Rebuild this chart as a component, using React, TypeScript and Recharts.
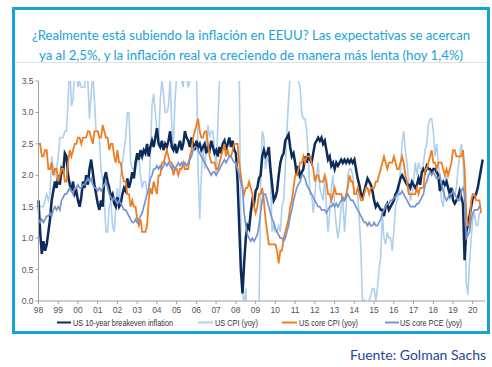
import { LineChart, Line, XAxis, YAxis } from 'recharts'

// Monthly series, first value = Aug 1998
const START = 1998 + 7 / 12

// US 10-year breakeven inflation (runs to Feb 2021)
const breakeven = [
  1.6, 1.1, 0.75, 0.95, 0.8,
  0.9, 1.1, 1.3, 1.6, 1.75, 1.9, 1.8, 2.0, 1.85, 2.1, 2.05, 2.35,
  2.3, 2.0, 1.85, 1.75, 1.9, 1.7, 1.75, 1.6, 1.5, 1.65, 1.9, 1.8,
  2.0, 1.85, 2.1, 2.25, 2.05, 1.85, 1.7, 1.55, 1.45, 1.6, 1.5, 1.95,
  2.05, 1.9, 1.8, 1.65, 1.7, 1.55, 1.5, 1.65, 1.5, 1.55, 1.7, 1.8,
  1.75, 1.95, 1.8, 1.9, 2.05, 1.95, 2.2, 2.35, 2.25, 2.4, 2.3, 2.4,
  2.35, 2.5, 2.3, 2.45, 2.55, 2.45, 2.6, 2.75, 2.5, 2.45, 2.55, 2.4,
  2.5, 2.45, 2.55, 2.7, 2.45, 2.4, 2.5, 2.35, 2.45, 2.55, 2.4, 2.5,
  2.7, 2.6, 2.55, 2.45, 2.6, 2.5, 2.4, 2.55, 2.45, 2.5, 2.4, 2.45,
  2.5, 2.35, 2.45, 2.4, 2.55, 2.45, 2.35, 2.4, 2.3, 2.45, 2.35, 2.5,
  2.55, 2.4, 2.5, 2.6, 2.45, 2.55, 2.4, 2.35, 1.9, 1.2, 0.5, 0.12,
  0.6, 1.0, 1.2, 1.15, 1.4, 1.6, 1.55, 1.75, 1.8, 1.95, 2.0, 2.3,
  2.4, 2.3, 2.35, 2.45, 2.1, 1.85, 1.6, 1.65, 1.75, 2.0, 2.2, 2.3,
  2.35, 2.55, 2.6, 2.65, 2.45, 2.3, 2.35, 2.2, 2.0, 2.15, 1.95, 2.05,
  2.1, 2.3, 2.2, 2.35, 2.25, 2.2, 2.35, 2.5, 2.55, 2.6, 2.55, 2.6,
  2.5, 2.55, 2.4, 2.25, 2.3, 2.15, 2.2, 2.1, 2.2, 2.15, 2.2, 2.25,
  2.2, 2.25, 2.2, 2.25, 2.2, 2.25, 2.2, 2.25, 2.1, 1.95, 1.85, 1.7,
  1.65, 1.75, 1.85, 1.95, 1.9, 1.85, 1.75, 1.6, 1.5, 1.55, 1.5, 1.45,
  1.45, 1.35, 1.5, 1.55, 1.45, 1.5, 1.55, 1.6, 1.7, 1.75, 1.85, 1.95,
  2.0, 1.95, 1.9, 1.85, 1.85, 1.8, 1.9, 1.85, 1.8, 1.85, 1.95, 1.85,
  2.05, 2.1, 2.05, 2.15, 2.1, 2.1, 2.05, 2.1, 2.1, 2.05, 2.0, 1.75,
  1.85, 1.9, 1.85, 1.9, 1.8, 1.7, 1.8, 1.6, 1.55, 1.6, 1.65, 1.75,
  1.65, 1.55, 0.65, 1.1, 1.2, 1.35, 1.5, 1.65, 1.65, 1.7, 1.8, 1.95,
  2.1, 2.25,
]

// US CPI (yoy)
const cpi = [
  1.6, 1.5, 1.5, 1.5, 1.6,
  1.7, 1.6, 1.7, 2.3, 2.1, 2.0, 2.1, 2.3, 2.6, 2.6, 2.6, 2.7,
  2.7, 3.2, 3.8, 3.1, 3.2, 3.7, 3.7, 3.4, 3.5, 3.4, 3.4, 3.4,
  3.7, 3.5, 2.9, 3.3, 3.6, 3.2, 2.7, 2.7, 2.6, 2.1, 1.9, 1.6,
  1.1, 1.1, 1.5, 1.6, 1.2, 1.1, 1.5, 1.8, 1.5, 2.0, 2.2, 2.4,
  2.6, 3.0, 3.0, 2.2, 2.1, 2.1, 2.1, 2.2, 2.3, 2.0, 1.8, 1.9,
  1.9, 1.7, 1.7, 2.3, 3.1, 3.3, 3.0, 2.7, 2.5, 3.2, 3.5, 3.3,
  3.0, 3.0, 3.1, 3.5, 2.8, 2.5, 3.2, 3.6, 4.7, 4.3, 3.5, 3.4,
  4.0, 3.6, 3.4, 3.5, 4.2, 4.3, 4.1, 3.8, 2.1, 1.3, 2.0, 2.5,
  2.1, 2.4, 2.8, 2.6, 2.7, 2.7, 2.4, 2.0, 2.8, 3.5, 4.3, 4.1,
  4.3, 4.0, 4.0, 3.9, 4.2, 5.0, 5.6, 5.4, 4.9, 3.7, 1.1, 0.1,
  0.0, 0.2, -0.4, -0.7, -1.3, -1.4, -2.1, -1.5, -1.3, -0.2, 1.8, 2.7,
  2.6, 2.1, 2.3, 2.2, 2.0, 1.1, 1.2, 1.1, 1.1, 1.2, 1.1, 1.5,
  1.6, 2.1, 2.7, 3.2, 3.6, 3.6, 3.6, 3.8, 3.9, 3.5, 3.4, 3.0,
  2.9, 2.9, 2.7, 2.3, 1.7, 1.7, 1.4, 1.7, 2.0, 2.2, 1.8, 1.7,
  1.6, 2.0, 1.5, 1.1, 1.4, 1.8, 2.0, 1.5, 1.2, 1.0, 1.2, 1.5,
  1.6, 1.1, 1.5, 2.0, 2.1, 2.1, 2.0, 1.7, 1.7, 1.7, 1.3, 0.8,
  -0.1, 0.0, -0.1, -0.2, 0.0, 0.1, 0.2, 0.2, 0.0, 0.2, 0.5, 0.7,
  1.4, 1.0, 0.9, 1.1, 1.0, 1.0, 0.8, 1.1, 1.5, 1.6, 1.7, 2.1,
  2.5, 2.7, 2.4, 2.2, 1.9, 1.6, 1.7, 1.9, 2.2, 2.0, 2.2, 2.1,
  2.1, 2.2, 2.4, 2.5, 2.8, 2.9, 2.9, 2.7, 2.3, 2.5, 2.2, 1.9,
  1.6, 1.5, 1.9, 2.0, 1.8, 1.6, 1.8, 1.7, 1.7, 1.8, 2.1, 2.3,
  2.5, 2.3, 1.5, 0.3, 0.1, 0.6, 1.0, 1.3, 1.4, 1.2, 1.2, 1.4,
  1.4,
]

// US core CPI (yoy)
const coreCpi = [
  2.5, 2.5, 2.3, 2.3, 2.4,
  2.4, 2.1, 2.1, 2.2, 2.0, 2.1, 2.1, 1.9, 2.0, 2.1, 2.1, 1.9,
  1.9, 2.2, 2.4, 2.3, 2.4, 2.5, 2.5, 2.6, 2.6, 2.5, 2.6, 2.6,
  2.6, 2.7, 2.7, 2.6, 2.5, 2.7, 2.7, 2.7, 2.6, 2.6, 2.8, 2.7,
  2.6, 2.6, 2.4, 2.5, 2.5, 2.3, 2.2, 2.4, 2.2, 2.2, 2.0, 1.9,
  1.9, 1.7, 1.7, 1.5, 1.6, 1.5, 1.5, 1.3, 1.2, 1.3, 1.1, 1.1,
  1.1, 1.2, 1.6, 1.8, 1.7, 1.9, 1.8, 1.7, 2.0, 2.0, 2.2, 2.2,
  2.3, 2.4, 2.3, 2.2, 2.2, 2.0, 2.1, 2.1, 2.0, 2.1, 2.1, 2.2,
  2.1, 2.1, 2.1, 2.3, 2.4, 2.6, 2.7, 2.8, 2.9, 2.7, 2.6, 2.6,
  2.7, 2.7, 2.5, 2.3, 2.2, 2.2, 2.2, 2.1, 2.1, 2.2, 2.3, 2.4,
  2.5, 2.3, 2.4, 2.3, 2.3, 2.4, 2.5, 2.5, 2.5, 2.2, 2.0, 1.8,
  1.7, 1.8, 1.8, 1.9, 1.8, 1.7, 1.5, 1.4, 1.5, 1.7, 1.7, 1.8,
  1.6, 1.3, 1.1, 0.9, 0.9, 0.9, 0.9, 0.9, 0.8, 0.6, 0.8, 0.8,
  1.0, 1.1, 1.2, 1.3, 1.5, 1.6, 1.8, 2.0, 2.0, 2.1, 2.2, 2.2,
  2.3, 2.2, 2.3, 2.3, 2.3, 2.2, 2.1, 1.9, 2.0, 2.0, 1.9, 1.9,
  1.9, 2.0, 1.9, 1.7, 1.7, 1.6, 1.7, 1.8, 1.7, 1.7, 1.7, 1.7,
  1.6, 1.6, 1.7, 1.8, 2.0, 1.9, 1.9, 1.7, 1.7, 1.8, 1.7, 1.6,
  1.6, 1.7, 1.8, 1.8, 1.7, 1.8, 1.8, 1.8, 1.9, 1.9, 2.0, 2.1,
  2.2, 2.3, 2.2, 2.1, 2.2, 2.2, 2.2, 2.3, 2.2, 2.1, 2.1, 2.2,
  2.3, 2.2, 2.0, 1.9, 1.7, 1.7, 1.7, 1.7, 1.7, 1.8, 1.7, 1.8,
  1.8, 1.8, 2.1, 2.1, 2.2, 2.3, 2.4, 2.2, 2.2, 2.1, 2.2, 2.2,
  2.2, 2.1, 2.0, 2.1, 2.0, 2.1, 2.2, 2.4, 2.4, 2.3, 2.3, 2.3,
  2.3, 2.4, 2.1, 1.4, 1.2, 1.2, 1.6, 1.7, 1.7, 1.6, 1.6, 1.6,
  1.4,
]

// US core PCE (yoy)
const corePce = [
  1.3, 1.25, 1.3, 1.25, 1.3,
  1.35, 1.35, 1.4, 1.35, 1.45, 1.5, 1.45, 1.5, 1.45, 1.6, 1.65, 1.7,
  1.7, 1.75, 1.8, 1.75, 1.7, 1.8, 1.8, 1.85, 1.8, 1.8, 1.85, 1.85,
  1.9, 1.95, 1.9, 1.95, 1.85, 1.8, 1.8, 1.75, 1.8, 1.75, 1.8, 1.85,
  1.9, 1.8, 1.7, 1.65, 1.6, 1.65, 1.6, 1.55, 1.6, 1.55, 1.5, 1.45,
  1.45, 1.4, 1.35, 1.3, 1.25, 1.25, 1.3, 1.25, 1.3, 1.35, 1.4, 1.5,
  1.6, 1.7, 1.8, 1.95, 2.0, 2.1, 2.1, 2.15, 2.1, 2.15, 2.1, 2.15,
  2.2, 2.15, 2.2, 2.15, 2.1, 2.15, 2.1, 2.15, 2.2, 2.15, 2.2, 2.15,
  2.2, 2.15, 2.2, 2.25, 2.3, 2.4, 2.45, 2.45, 2.4, 2.35, 2.3, 2.25,
  2.2, 2.15, 2.1, 2.05, 2.0, 2.05, 2.05, 2.0, 2.05, 2.1, 2.15, 2.2,
  2.25, 2.2, 2.25, 2.3, 2.3, 2.25, 2.2, 2.2, 2.1, 2.0, 1.9, 1.8,
  1.4, 1.2, 1.05, 1.0, 0.95, 1.0, 0.95, 1.0, 1.05, 1.2, 1.4, 1.6,
  1.7, 1.7, 1.6, 1.5, 1.4, 1.3, 1.25, 1.15, 1.1, 1.05, 1.0, 1.0,
  0.95, 1.0, 1.1, 1.2, 1.35, 1.45, 1.6, 1.7, 1.8, 1.85, 1.9, 2.0,
  2.0, 1.95, 1.85, 1.8, 1.75, 1.7, 1.65, 1.6, 1.55, 1.5, 1.5, 1.45,
  1.45, 1.45, 1.4, 1.45, 1.5, 1.5, 1.55, 1.5, 1.55, 1.5, 1.55, 1.6,
  1.65, 1.6, 1.65, 1.7, 1.65, 1.6, 1.6, 1.55, 1.5, 1.45, 1.4, 1.35,
  1.3, 1.25, 1.25, 1.2, 1.25, 1.2, 1.2, 1.25, 1.2, 1.2, 1.25, 1.3,
  1.4, 1.45, 1.5, 1.55, 1.55, 1.6, 1.6, 1.65, 1.65, 1.7, 1.7, 1.7,
  1.75, 1.7, 1.65, 1.6, 1.55, 1.5, 1.5, 1.5, 1.5, 1.55, 1.55, 1.6,
  1.65, 1.7, 1.85, 1.9, 2.0, 2.05, 2.0, 2.05, 2.0, 1.95, 1.95, 2.0,
  1.85, 1.75, 1.65, 1.6, 1.65, 1.7, 1.7, 1.75, 1.7, 1.65, 1.6, 1.6,
  1.75, 1.8, 1.7, 1.0, 1.05, 1.1, 1.3, 1.4, 1.45, 1.45, 1.45, 1.5,
  1.5,
]

const yTicks = [0, 0.5, 1, 1.5, 2, 2.5, 3, 3.5]
const yearLabels = ['98', '99', '00', '01', '02', '03', '04', '05', '06', '07', '08', '09', '10', '11', '12', '13', '14', '15', '16', '17', '18', '19', '20']

const TICK_OFFSET = 0.58
const xTicks = yearLabels.map((_, i) => 1998 + TICK_OFFSET + i)

const data = breakeven.map((v, i) => ({
  t: START + i / 12,
  be: v,
  cpi: cpi[i],
  core: coreCpi[i],
  pce: corePce[i],
}))

const COLORS = {
  be: '#0d2b5a',
  cpi: '#aed0ee',
  core: '#ef7d22',
  pce: '#7895cb',
}

const legendItems = [
  { label: 'US 10-year breakeven inflation', color: COLORS.be, x1: 57, x2: 71, tx: 73, tw: 100 },
  { label: 'US CPI (yoy)', color: COLORS.cpi, x1: 198, x2: 213, tx: 215, tw: 43 },
  { label: 'US core CPI (yoy)', color: COLORS.core, x1: 282, x2: 297, tx: 299, tw: 59 },
  { label: 'US core PCE (yoy)', color: COLORS.pce, x1: 385, x2: 399, tx: 400, tw: 62 },
]

const axisFont = { fontSize: 8.5, fill: '#555', fontFamily: 'Arial, "Liberation Sans", sans-serif' }
const titleFont = "Lato, 'Open Sans', sans-serif"

export default function App() {
  return (
    <div style={{ position: 'absolute', left: 0, top: 0, width: 492, height: 367, background: '#fff', overflow: 'hidden' }}>
      <div
        style={{
          position: 'absolute',
          left: 12,
          top: 7,
          width: 478,
          height: 327,
          border: '3px solid #16a3d7',
          boxSizing: 'border-box',
        }}
      />
      <div style={{ position: 'absolute', left: 15, top: 62, width: 472, height: 1, background: '#e2e2e2' }} />

      <div style={{ position: 'absolute', left: 0, top: 0 }}>
        <LineChart
          width={492}
          height={367}
          data={data}
          margin={{ top: 81, right: 7, left: 8, bottom: 46 }}
        >
          <XAxis
            dataKey="t"
            type="number"
            domain={[START, 2021.2]}
            ticks={xTicks}
            interval={0}
            tickFormatter={(v: number) => yearLabels[Math.round(v - 1998 - TICK_OFFSET)] ?? ''}
            tick={axisFont}
            stroke="#a0a0a0"
            tickSize={3}
            tickMargin={3}
            height={20}
          />
          <YAxis
            domain={[0, 3.5]}
            ticks={yTicks}
            allowDataOverflow
            tickFormatter={(v: number) => v.toFixed(1)}
            tick={axisFont}
            stroke="#a0a0a0"
            tickSize={3}
            tickMargin={2}
            width={30.5}
          />
          <Line dataKey="cpi" stroke={COLORS.cpi} strokeWidth={1.6} dot={false} isAnimationActive={false} />
          <Line dataKey="be" stroke={COLORS.be} strokeWidth={2.5} dot={false} isAnimationActive={false} />
          <Line dataKey="core" stroke={COLORS.core} strokeWidth={1.8} dot={false} isAnimationActive={false} />
          <Line dataKey="pce" stroke={COLORS.pce} strokeWidth={1.7} dot={false} isAnimationActive={false} />
        </LineChart>
      </div>

      <svg width={492} height={367} style={{ position: 'absolute', left: 0, top: 0, pointerEvents: 'none' }}>
        <text x={251} y={39.5} textAnchor="middle" textLength={438} lengthAdjust="spacingAndGlyphs" fontFamily={titleFont} fontSize={12.5} fill="#1ba2d6">
          ¿Realmente está subiendo la inflación en EEUU? Las expectativas se acercan
        </text>
        <text x={251} y={59.5} textAnchor="middle" textLength={424} lengthAdjust="spacingAndGlyphs" fontFamily={titleFont} fontSize={12.5} fill="#1ba2d6">
          ya al 2,5%, y la inflación real va creciendo de manera más lenta (hoy 1,4%)
        </text>
        {legendItems.map((it) => (
          <g key={it.label}>
            <line x1={it.x1} x2={it.x2} y1={322.5} y2={322.5} stroke={it.color} strokeWidth={2} />
            <text x={it.tx} y={325.5} textLength={it.tw} lengthAdjust="spacingAndGlyphs" fontFamily="Arial, 'Liberation Sans', sans-serif" fontSize={8.5} fill="#333">
              {it.label}
            </text>
          </g>
        ))}
        <text x={350} y={360} textLength={136} lengthAdjust="spacingAndGlyphs" fontFamily={titleFont} fontSize={14} fill="#23479a">
          Fuente: Golman Sachs
        </text>
      </svg>
    </div>
  )
}
